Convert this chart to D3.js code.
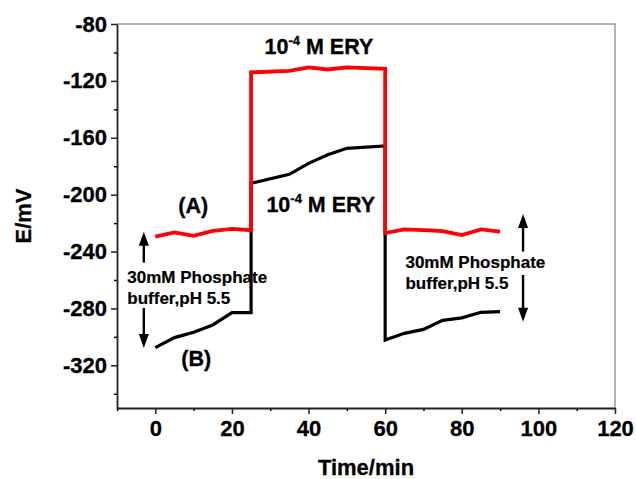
<!DOCTYPE html>
<html lang="en">
<head>
	<meta charset="UTF-8">
	<script src="https://cdn.jsdelivr.net/npm/d3@7"></script>
	<title>Potential vs time</title>
	<style>
		body {
			margin: 0;
			background: #fff;
			font-family: Arial, "Liberation Sans", sans-serif;
		}
		text {
			font-weight: bold;
			fill: #000;
			stroke: #000;
			stroke-width: 0.3px;
		}
	</style>
</head>
<body>
	<script>
		// curve (A), red
		const timeA = [0, 5, 10, 15, 20, 25, 25, 35, 40, 45, 50, 60, 60, 65, 70, 75, 80, 85, 90];
		const valuesA = [-229.5, -226.5, -229, -225.5, -224, -225, -114, -113, -110.5, -112, -110.5, -111.5,
			-227, -224.4, -225, -225.6, -228.4, -224.4, -226];
		// curve (B), black
		const timeB = [0, 5, 10, 15, 20, 25, 25, 35, 40, 45, 50, 60, 60, 65, 70, 75, 80, 85, 90];
		const valuesB = [-307.6, -300.5, -296.8, -291.6, -283, -283, -192, -185.7, -178, -172, -167.4, -165.8,
			-302.2, -297.5, -294.7, -288.4, -286.6, -282.7, -282.2];

		const xTicks = [0, 20, 40, 60, 80, 100, 120];
		const xMinor = [-10, 10, 30, 50, 70, 90, 110];
		const yTicks = [-80, -120, -160, -200, -240, -280, -320];
		const yMinor = [-100, -140, -180, -220, -260, -300, -340];

		const width = 636, height = 479;
		const margin = { top: 24, right: 21, bottom: 71, left: 117 };

		const svg = d3.select('body').append('svg')
			.attr('width', width)
			.attr('height', height);

		const x = d3.scaleLinear().domain([-10, 120]).range([margin.left, width - margin.right]);
		const y = d3.scaleLinear().domain([-350, -80]).range([height - margin.bottom, margin.top]);

		// frame: grey top and right
		svg.append('path')
			.attr('d', `M${x(-10)},${y(-80)}H${x(120)}V${y(-350)}`)
			.attr('fill', 'none')
			.attr('stroke', '#9a9a9a')
			.attr('stroke-width', 1.5);

		// minor ticks
		svg.append('g')
			.attr('transform', `translate(${margin.left},0)`)
			.call(d3.axisLeft(y).tickValues(yMinor).tickSize(3).tickFormat(''))
			.call(g => g.select('.domain').remove())
			.selectAll('line').attr('stroke-width', 1.5);
		svg.append('g')
			.attr('transform', `translate(0,${height - margin.bottom})`)
			.call(d3.axisBottom(x).tickValues(xMinor).tickSize(3).tickFormat(''))
			.call(g => g.select('.domain').remove())
			.selectAll('line').attr('stroke-width', 1.5);

		// main axes
		const yAxis = svg.append('g')
			.attr('transform', `translate(${margin.left},0)`)
			.call(d3.axisLeft(y).tickValues(yTicks).tickSize(6).tickSizeOuter(0).tickPadding(4));
		const xAxis = svg.append('g')
			.attr('transform', `translate(0,${height - margin.bottom})`)
			.call(d3.axisBottom(x).tickValues(xTicks).tickSize(6).tickSizeOuter(0).tickPadding(6));

		[yAxis, xAxis].forEach(ax => {
			ax.select('.domain').attr('stroke-width', 1.8).attr('stroke', '#222');
			ax.selectAll('.tick line').attr('stroke-width', 1.5).attr('stroke', '#222');
			ax.selectAll('.tick text')
				.attr('font-family', 'Arial, "Liberation Sans", sans-serif')
				.attr('font-size', 22)
				.attr('font-weight', 'bold')
				.attr('fill', '#000')
				.text(d => String(d));
		});

		// axis titles
		svg.append('text')
			.attr('x', (x(-10) + x(120)) / 2)
			.attr('y', 475)
			.attr('text-anchor', 'middle')
			.attr('font-size', 22)
			.text('Time/min');
		svg.append('text')
			.attr('transform', `translate(31,${(y(-80) + y(-350)) / 2}) rotate(-90)`)
			.attr('text-anchor', 'middle')
			.attr('font-size', 22)
			.text('E/mV');

		const line = d3.line().x(d => x(d[0])).y(d => y(d[1]));

		svg.append('path')
			.datum(d3.zip(timeB, valuesB))
			.attr('fill', 'none')
			.attr('stroke', '#000')
			.attr('stroke-width', 3.2)
			.attr('stroke-linejoin', 'miter')
			.attr('d', line);

		svg.append('path')
			.datum(d3.zip(timeA, valuesA))
			.attr('fill', 'none')
			.attr('stroke', '#ff0000')
			.attr('stroke-width', 3.8)
			.attr('stroke-linejoin', 'miter')
			.attr('d', line);

		// annotations, in data units
		const eryLabels = [[28.5, -101], [29, -212]];
		eryLabels.forEach(([t, e]) => {
			const txt = svg.append('text')
				.attr('x', x(t))
				.attr('y', y(e))
				.attr('font-size', 21.5);
			txt.append('tspan').text('10');
			txt.append('tspan').attr('font-size', 13).attr('dy', -9).text('-4');
			txt.append('tspan').attr('dy', 9).text(' M ERY');
		});

		const curveLabels = [['(A)', 6, -213], ['(B)', 6.8, -320.5]];
		curveLabels.forEach(([s, t, e]) => {
			svg.append('text')
				.attr('x', x(t))
				.attr('y', y(e))
				.attr('font-size', 21.5)
				.text(s);
		});

		const bufferLabels = [[-7.3, -262], [65.3, -251.6]];
		bufferLabels.forEach(([t, e]) => {
			const txt = svg.append('text')
				.attr('x', x(t))
				.attr('y', y(e))
				.attr('font-size', 17)
				.style('stroke-width', '0.2px');
			txt.append('tspan').text('30mM Phosphate');
			txt.append('tspan').attr('x', x(t)).attr('dy', 21).text('buffer,pH 5.5');
		});

		// arrows: [time, from, to]
		const arrows = [[-3, -247.8, -226], [-3, -279.7, -307.8], [96, -240, -213.6], [96, -256.5, -289.3]];
		arrows.forEach(([t, from, to]) => {
			const x0 = x(t), y0 = y(from), y1 = y(to);
			const dir = y1 < y0 ? -1 : 1;
			svg.append('line')
				.attr('x1', x0).attr('x2', x0)
				.attr('y1', y0).attr('y2', y1 - dir * 10)
				.attr('stroke', '#000')
				.attr('stroke-width', 2.4);
			svg.append('path')
				.attr('d', `M${x0},${y1}L${x0 - 5},${y1 - dir * 14}L${x0 + 5},${y1 - dir * 14}Z`)
				.attr('fill', '#000');
		});
	</script>
</body>
</html>
